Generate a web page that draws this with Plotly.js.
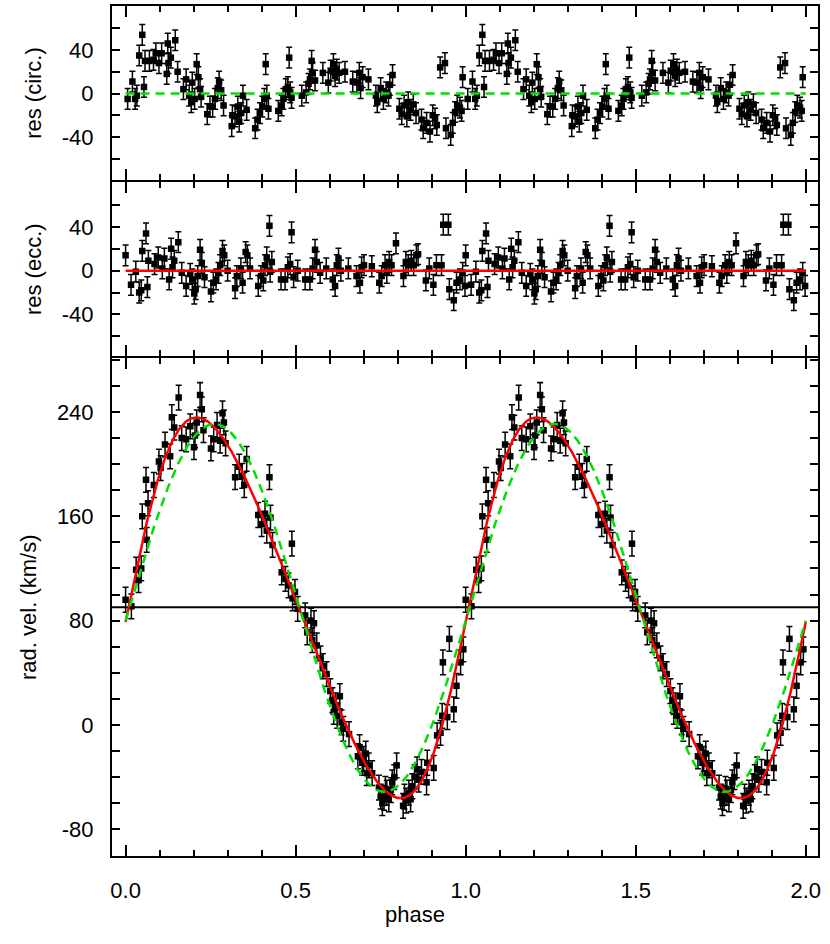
<!DOCTYPE html>
<html><head><meta charset="utf-8">
<script src="https://cdn.plot.ly/plotly-3.0.1.min.js"></script>
<style>html,body{margin:0;padding:0;background:#fff}#chart{width:830px;height:944px}</style>
</head><body><div id="chart"></div>
<script>
// ---- residuals of circular fit (top panel), phase 0..1 ----
const phC = [0.006,0.020,0.028,0.033,0.040,0.049,0.054,0.057,0.070,0.082,0.089,0.098,0.106,0.121,0.124,0.126,0.133,0.146,0.153,0.170,0.178,0.187,0.193,0.196,0.203,0.209,0.214,0.219,0.222,0.240,0.248,0.256,0.263,0.271,0.275,0.281,0.288,0.312,0.314,0.322,0.330,0.334,0.340,0.345,0.356,0.381,0.388,0.395,0.402,0.408,0.412,0.415,0.420,0.449,0.459,0.464,0.471,0.477,0.481,0.484,0.488,0.518,0.531,0.538,0.542,0.547,0.550,0.557,0.580,0.596,0.603,0.611,0.616,0.621,0.628,0.645,0.668,0.680,0.687,0.691,0.697,0.714,0.736,0.740,0.750,0.758,0.766,0.773,0.777,0.785,0.805,0.812,0.819,0.827,0.831,0.838,0.846,0.854,0.870,0.875,0.885,0.895,0.903,0.910,0.915,0.925,0.939,0.942,0.956,0.962,0.969,0.975,0.983,0.988,0.991];
const resC = [-5,11,-5,-2,35,54,6,30,30,31,37,28,37,18,46,28,33,49,20,4,13,-2,-8,10,-5,27,15,4,-3,-19,-12,-12,-5,5,11,3,-11,-30,-20,-21,-12,-26,-18,-2,-15,-32,-24,-18,-12,-5,27,-2,-14,-16,-11,-5,4,6,33,1,-4,-2,1,9,13,30,19,12,19,10,21,27,16,22,19,20,11,10,19,5,15,13,-2,-8,5,-5,1,-2,8,17,-14,-19,-11,-21,-8,-15,-10,-18,-24,-32,-27,-35,-20,-23,-29,24,28,-32,-38,-27,-17,-11,-13,-16,15];

// ---- residuals of eccentric fit (middle panel) ----
const phE = [0.000,0.016,0.030,0.040,0.046,0.049,0.060,0.064,0.067,0.085,0.096,0.108,0.114,0.128,0.134,0.138,0.143,0.155,0.165,0.178,0.190,0.196,0.202,0.206,0.212,0.219,0.224,0.232,0.251,0.258,0.266,0.273,0.278,0.285,0.290,0.300,0.322,0.327,0.339,0.344,0.353,0.358,0.366,0.390,0.398,0.405,0.410,0.415,0.423,0.425,0.430,0.457,0.469,0.477,0.484,0.488,0.494,0.506,0.528,0.542,0.550,0.557,0.562,0.572,0.590,0.609,0.616,0.621,0.626,0.633,0.655,0.679,0.689,0.694,0.701,0.724,0.746,0.753,0.763,0.768,0.775,0.782,0.795,0.817,0.824,0.831,0.840,0.847,0.855,0.860,0.883,0.893,0.905,0.914,0.929,0.934,0.949,0.952,0.965,0.973,0.983,0.991,0.998];
const resE = [14,-13,-1,-20,-18,18,34,-15,9,6,12,2,11,-8,20,3,9,26,-2,-14,-3,-8,-21,-17,-5,19,7,-6,-19,-11,-8,-2,5,18,14,0,-16,-5,2,-11,17,14,2,-14,-5,-9,5,12,41,-1,8,-8,-8,3,6,35,-6,0,-8,-8,2,19,8,-2,2,-8,-14,5,11,0,2,-5,-11,3,5,4,-11,-5,5,-2,8,5,25,-5,8,5,9,5,14,15,-9,2,-13,5,5,42,42,-17,-27,-11,-8,-2,-14];

// ---- radial velocities (bottom panel), km/s ----
const phV = [0.000,0.017,0.031,0.038,0.046,0.049,0.060,0.062,0.066,0.083,0.098,0.103,0.116,0.131,0.136,0.143,0.156,0.165,0.178,0.190,0.201,0.204,0.209,0.219,0.224,0.229,0.251,0.259,0.269,0.278,0.285,0.289,0.294,0.322,0.334,0.343,0.349,0.356,0.390,0.400,0.410,0.415,0.423,0.426,0.432,0.459,0.470,0.479,0.489,0.491,0.498,0.506,0.528,0.534,0.545,0.549,0.554,0.562,0.573,0.580,0.591,0.602,0.608,0.612,0.618,0.622,0.630,0.635,0.640,0.657,0.683,0.688,0.696,0.700,0.706,0.709,0.715,0.725,0.745,0.750,0.755,0.760,0.764,0.768,0.774,0.780,0.784,0.790,0.797,0.816,0.820,0.825,0.833,0.838,0.843,0.850,0.857,0.862,0.870,0.885,0.887,0.906,0.916,0.926,0.931,0.933,0.946,0.952,0.965,0.973,0.985,0.993];
const rv = [96,91,119,111,120,160,188,142,170,184,202,197,215,206,236,228,251,220,219,229,213,222,232,253,242,226,212,219,230,218,239,232,216,190,198,191,184,204,161,154,162,149,190,159,138,117,112,107,139,97,102,89,84,71,80,65,78,61,51,45,39,26,19,10,15,7,22,2,-3,-7,-24,-17,-29,-26,-22,-37,-31,-37,-48,-55,-60,-56,-49,-52,-57,-50,-44,-40,-31,-62,-55,-58,-52,-57,-47,-40,-34,-42,-36,-44,-29,-33,-8,-6,7,48,6,66,12,30,48,58];

const ERR = 9.5; // error bar half-length, km/s

// ---- fitted orbit parameters ----
const GAMMA = 89.8, K_ECC = 146, ECC = 0.157, OMEGA_DEG = 270, T_PERI = 0.0085;
const GAMMA_C = 89.75, K_CIRC = 141, PHI_C = 0.011;
const GAMMA_LINE = 90.3;

const xTickVals = [0, 0.5, 1, 1.5, 2];
const xTickText = ['0.0', '0.5', '1.0', '1.5', '2.0'];
const resTickVals = [-60, -40, -20, 0, 20, 40, 60];
const resTickText = ['', '-40', '', '0', '', '40', ''];
const rvTickVals = [-100, -80, -60, -40, -20, 0, 20, 40, 60, 80, 100, 120, 140, 160, 180, 200, 220, 240, 260, 280];
const rvTickText = ['', '-80', '', '', '', '0', '', '', '', '80', '', '', '', '160', '', '', '', '240', '', ''];

function keplerRV(phase) {
  const M = 2 * Math.PI * (phase - T_PERI);
  let E = M;
  for (let i = 0; i < 40; i++) E -= (E - ECC * Math.sin(E) - M) / (1 - ECC * Math.cos(E));
  const nu = 2 * Math.atan2(Math.sqrt(1 + ECC) * Math.sin(E / 2), Math.sqrt(1 - ECC) * Math.cos(E / 2));
  const w = OMEGA_DEG * Math.PI / 180;
  return GAMMA + K_ECC * (Math.cos(nu + w) + ECC * Math.cos(w));
}
function circRV(phase) { return GAMMA_C + K_CIRC * Math.sin(2 * Math.PI * (phase - PHI_C)); }

const modelPh = [];
for (let i = 0; i <= 1000; i++) modelPh.push(i * 0.002);
const eccCurve = modelPh.map(keplerRV);
const circCurve = modelPh.map(circRV);

const twoCycles = a => a.concat(a.map(p => p + 1));
const repeat = a => a.concat(a);

const FONT = 'Liberation Sans, Arial, Helvetica, sans-serif';
const GREEN = '#00e000', RED = '#ff0000';

const pts = (x, y, xa, ya) => ({
  x: twoCycles(x), y: repeat(y), xaxis: xa, yaxis: ya, type: 'scatter', mode: 'markers',
  marker: { symbol: 'square', size: 6.5, color: 'black' },
  error_y: { type: 'constant', value: ERR, color: 'black', thickness: 1.5, width: 3 },
  showlegend: false, hoverinfo: 'x+y'
});

const data = [
  // top panel
  pts(phC, resC, 'x3', 'y3'),
  { x: [0, 2], y: [0, 0], xaxis: 'x3', yaxis: 'y3', mode: 'lines', line: { color: GREEN, width: 2.5, dash: '9px,6px' }, showlegend: false },
  // middle panel
  pts(phE, resE, 'x2', 'y2'),
  { x: [0, 2], y: [0, 0], xaxis: 'x2', yaxis: 'y2', mode: 'lines', line: { color: RED, width: 2.5 }, showlegend: false },
  // bottom panel
  { x: [-0.04, 2.036], y: [GAMMA_LINE, GAMMA_LINE], xaxis: 'x', yaxis: 'y', mode: 'lines', line: { color: 'black', width: 2 }, showlegend: false, hoverinfo: 'skip' },
  pts(phV, rv, 'x', 'y'),
  { x: modelPh, y: eccCurve, xaxis: 'x', yaxis: 'y', mode: 'lines', line: { color: RED, width: 2.5 }, showlegend: false },
  { x: modelPh, y: circCurve, xaxis: 'x', yaxis: 'y', mode: 'lines', line: { color: GREEN, width: 2.5, dash: '9px,6px' }, showlegend: false }
];

const tickFont = { family: FONT, size: 22, color: 'black' };
const baseAxis = {
  showline: true, linecolor: 'black', linewidth: 2, mirror: 'ticks',
  ticks: 'inside', tickcolor: 'black', tickwidth: 2,
  showgrid: false, zeroline: false, tickfont: tickFont
};
const xAxis = (anchor, showLabels) => Object.assign({}, baseAxis, {
  anchor: anchor, range: [-0.04, 2.036], tickmode: 'array', tickvals: xTickVals, ticktext: xTickText,
  ticklen: 11, showticklabels: showLabels, ticklabelstandoff: 14,
  minor: { dtick: 0.1, tick0: 0, ticks: 'inside', ticklen: 6, tickwidth: 2, tickcolor: 'black', showgrid: false }
});
const yAxis = (domain, range, tv, tt, title, anchor) => Object.assign({}, baseAxis, {
  anchor: anchor, domain: domain, range: range, tickmode: 'array', tickvals: tv, ticktext: tt,
  ticklen: 8, ticklabelstandoff: 12,
  title: { text: title, font: { family: FONT, size: 22, color: 'black' }, standoff: 14 }
});

// 2px (one axis-line width) between stacked panels so the shared borders coincide
const GAP = 2 / 850;

const layout = {
  width: 830, height: 944,
  margin: { l: 112, r: 12, t: 6, b: 88 },
  paper_bgcolor: 'white', plot_bgcolor: 'white',
  font: { family: FONT, color: 'black' },
  showlegend: false,
  xaxis: xAxis('y', true),
  xaxis2: Object.assign(xAxis('y2', false), { matches: 'x' }),
  xaxis3: Object.assign(xAxis('y3', false), { matches: 'x' }),
  yaxis: yAxis([0, 0.5853], [-100.5, 281], rvTickVals, rvTickText, 'rad. vel. (km/s)', 'x'),
  yaxis2: yAxis([0.5853 + GAP, 0.7929], [-78.5, 81], resTickVals, resTickText, 'res (ecc.)', 'x2'),
  yaxis3: yAxis([0.7929 + GAP, 1], [-79.6, 80.5], resTickVals, resTickText, 'res (circ.)', 'x3'),
  annotations: [{
    text: 'phase', xref: 'paper', yref: 'paper', x: 0.429, y: -0.0694,
    xanchor: 'center', yanchor: 'middle', showarrow: false,
    font: { family: FONT, size: 22, color: 'black' }
  }]
};

Plotly.newPlot('chart', data, layout, { staticPlot: true, displayModeBar: false });
</script>
</body></html>
